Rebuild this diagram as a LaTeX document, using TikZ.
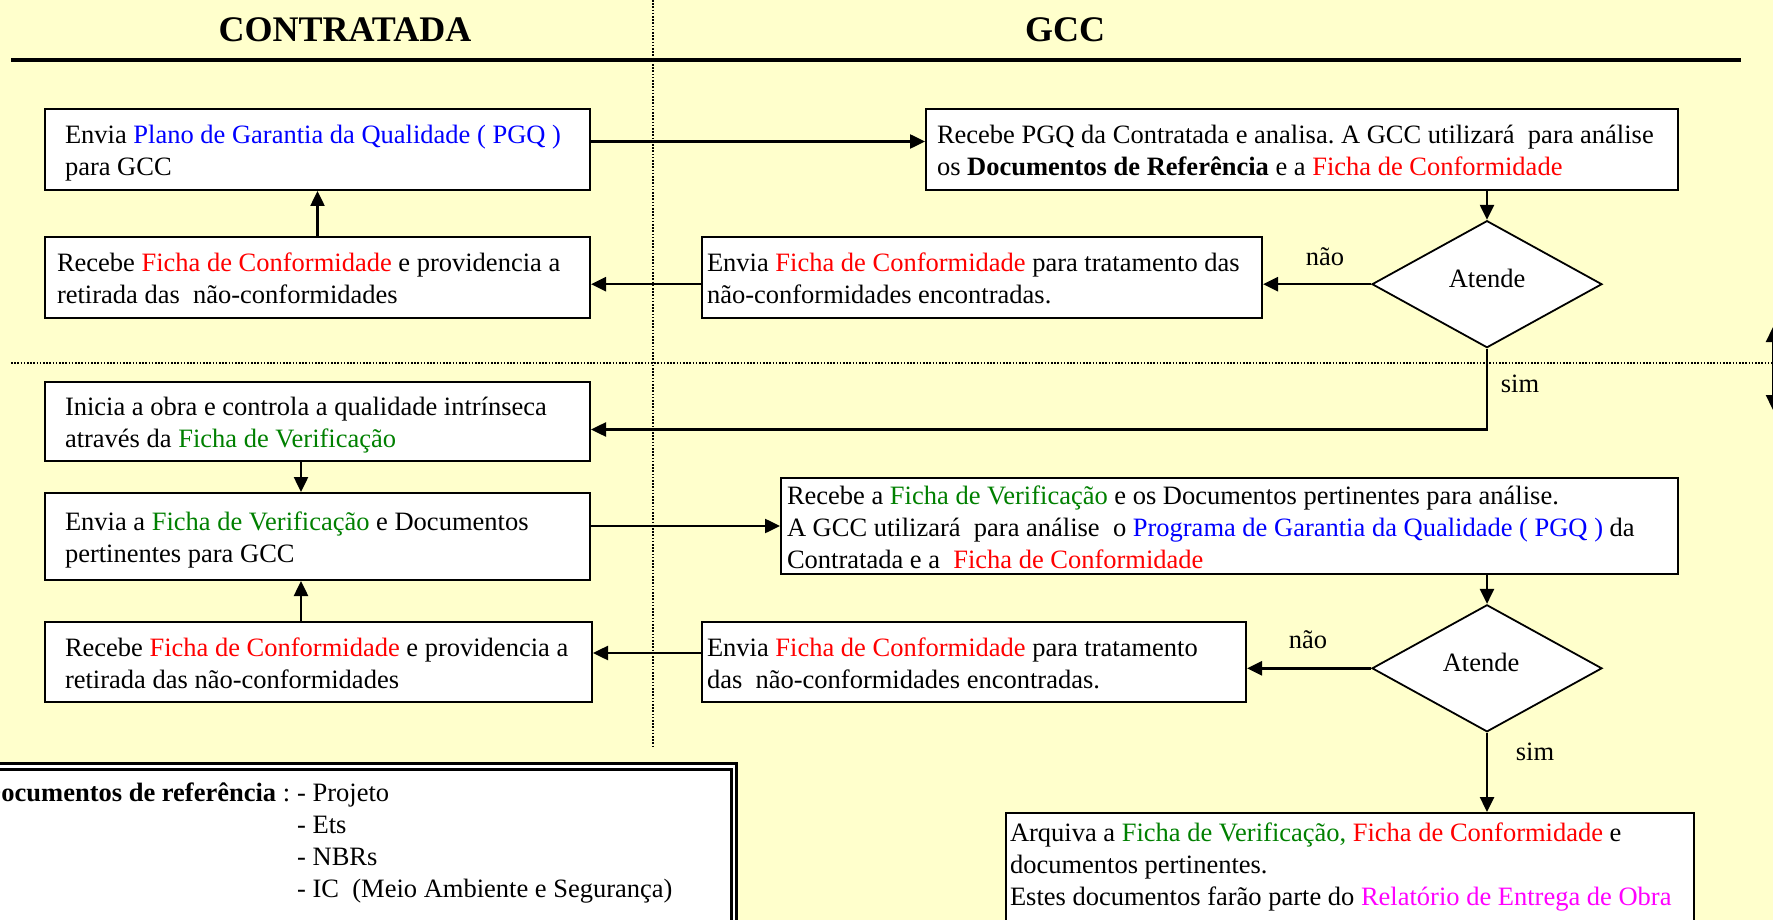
\documentclass[tikz,border=0pt]{standalone}
\usepackage{fontspec}
\setmainfont[Ligatures=NoCommon]{Liberation Serif}
\usetikzlibrary{arrows.meta,shapes.geometric}
\definecolor{bgyellow}{RGB}{255,255,204}
\definecolor{pgqblue}{RGB}{0,0,255}
\definecolor{fcred}{RGB}{255,0,0}
\definecolor{fvgreen}{RGB}{0,128,0}
\definecolor{remag}{RGB}{255,0,255}
\newcommand{\PGQ}[1]{\textcolor{pgqblue}{#1}}
\newcommand{\FC}[1]{\textcolor{fcred}{#1}}
\newcommand{\FV}[1]{\textcolor{fvgreen}{#1}}
\newcommand{\REO}[1]{\textcolor{remag}{#1}}
\newcommand{\Ln}[1]{\mbox{\rule[-6pt]{0pt}{32pt}#1}}
\frenchspacing
\begin{document}
\begin{tikzpicture}[x=1pt,y=-1pt,
  every node/.style={font=\fontsize{26.5}{32}\selectfont, inner sep=0pt},
  box/.style={draw, line width=2pt, fill=white, anchor=north west, align=flush left},
  arr/.style={line width=2.5pt, -{Triangle[length=15pt,width=14pt]}},
  decision/.style={draw, diamond, line width=1.8pt, fill=white, minimum width=230pt, minimum height=127pt, inner sep=0pt, text height=12pt, text depth=6pt},
  sepline/.style={line width=1.8pt, dash pattern=on 1.6pt off 1.6pt},
  header/.style={font=\fontsize{36}{40}\selectfont\bfseries},
]
\useasboundingbox (0,0) rectangle (1773,920);
\fill[bgyellow] (0,0) rectangle (1773,920);

% separators
\coordinate (vtop) at (653,0);
\coordinate (vbot) at (653,747);
\coordinate (hl) at (11,363);
\coordinate (hr) at (1773,363);
\draw[sepline] (vtop) -- (vbot);
\draw[sepline] (hl) -- (hr);
\coordinate (rl) at (11,60);
\coordinate (rr) at (1741,60);
\draw[line width=3.5pt] (rl) -- (rr);
\coordinate (da) at (1773,327);
\coordinate (db) at (1773,410);
\draw[line width=2.5pt, {Triangle[length=15pt,width=14pt]}-{Triangle[length=15pt,width=14pt]}] (da) -- (db);

% headers
\node[header] (hc) at (345,30) {CONTRATADA};
\node[header] (hg) at (1065,30) {GCC};

% boxes
\node[box, text width=505pt, inner xsep=20pt, minimum height=81pt] (B1) at (44,108)
  {\Ln{Envia \PGQ{Plano de Garantia da Qualidade ( PGQ )}}\\\Ln{para GCC}};
\node[box, text width=730pt, inner xsep=11pt, minimum height=81pt] (B2) at (925,108)
  {\Ln{Recebe PGQ da Contratada e analisa. A GCC utilizará\ \ para análise}\\\Ln{os \textbf{Documentos de Referência} e a \FC{Ficha de Conformidade}}};
\node[box, text width=521pt, inner xsep=12pt, minimum height=81pt] (B3) at (44,236)
  {\Ln{Recebe \FC{Ficha de Conformidade} e providencia a}\\\Ln{retirada das\ \ não-conformidades}};
\node[box, text width=550pt, inner xsep=5pt, minimum height=81pt] (B4) at (701,236)
  {\Ln{Envia \FC{Ficha de Conformidade} para tratamento das}\\\Ln{não-conformidades encontradas.}};
\node[decision] (D1) at (1487,284.2) {Atende};

\node[box, text width=505pt, inner xsep=20pt, minimum height=79pt] (B5) at (44,381)
  {\Ln{Inicia a obra e controla a qualidade intrínseca}\\\Ln{através da \FV{Ficha de Verificação}}};
\node[box, text width=505pt, inner xsep=20pt, minimum height=87pt] (B6) at (44,492)
  {\Ln{Envia a \FV{Ficha de Verificação} e Documentos}\\\Ln{pertinentes para GCC}};
\node[box, text width=885pt, inner xsep=6pt, minimum height=95pt] (B7) at (780,477)
  {\Ln{Recebe a \FV{Ficha de Verificação} e os Documentos pertinentes para análise.}\\\Ln{A GCC utilizará\ \ para análise\ \ o \PGQ{Programa de Garantia da Qualidade ( PGQ )} da}\\\Ln{Contratada e a\ \ \FC{Ficha de Conformidade}}};
\node[box, text width=507pt, inner xsep=20pt, minimum height=80pt] (B8) at (44,621)
  {\Ln{Recebe \FC{Ficha de Conformidade} e providencia a}\\\Ln{retirada das não-conformidades}};
\node[box, text width=534pt, inner xsep=5pt, minimum height=80pt] (B9) at (701,621)
  {\Ln{Envia \FC{Ficha de Conformidade} para tratamento}\\\Ln{das\ \ não-conformidades encontradas.}};
\node[decision] (D2) at (1487,668.3) {\hspace*{-12pt}Atende};
\node[box, inner xsep=4pt, inner ysep=2pt] (B10) at (1005,812)
  {\parbox[t][140pt][t]{680pt}{\raggedright
   \Ln{Arquiva a \FV{Ficha de Verificação,} \FC{Ficha de Conformidade} e}\\
   \Ln{documentos pertinentes.}\\
   \Ln{Estes documentos farão parte do \REO{Relatório de Entrega de Obra}}}};

% legend
\node[draw, double, line width=2.8pt, double distance=2.8pt, fill=white, anchor=north west,
      minimum width=752.5pt, minimum height=200pt] (legend) at (-20,765) {};
\node[anchor=base west] (lp) at (297,801) {- Projeto};
\node[anchor=base east] (lh) at (lp.base west) {\textbf{Documentos de referência} :\kern6.6pt};
\node[anchor=base west] (le) at (297,833) {- Ets};
\node[anchor=base west] (ln) at (297,865) {- NBRs};
\node[anchor=base west] (li) at (297,897) {- IC\ \ (Meio Ambiente e Segurança)};

% labels
\node (nao1) at (1325,257) {não};
\node (sim1) at (1520,384) {sim};
\node (nao2) at (1308,640) {não};
\node (sim2) at (1535,752) {sim};

% connectors
\draw[arr] ([yshift=8pt]B1.east) -- ([yshift=8pt]B2.west);
\draw[arr] (D1.north |- B2.south) -- (D1.north);
\draw[arr] (D1.west) -- (D1.west -| B4.east);
\draw[arr] (B4.west |- D1.west) -- (B3.east |- D1.west);
\draw[arr] (B3.north) -- (B1.south);
\draw[arr] (D1.south) |- ([yshift=-8pt]B5.east);
\draw[arr] ([xshift=-16.5pt]B5.south) -- ([xshift=-16.5pt]B6.north);
\draw[arr] (B6.east |- B7.west) -- (B7.west);
\draw[arr] (D2.north |- B7.south) -- (D2.north);
\draw[arr] (D2.west) -- (D2.west -| B9.east);
\draw[arr] ([yshift=9pt]B9.west) -- ([yshift=9pt]B9.west -| B8.east);
\draw[arr] ([xshift=-17.5pt]B8.north) -- ([xshift=-17.5pt]B8.north |- B6.south);
\draw[arr] (D2.south) -- (D2.south |- B10.north);
\end{tikzpicture}
\end{document}
